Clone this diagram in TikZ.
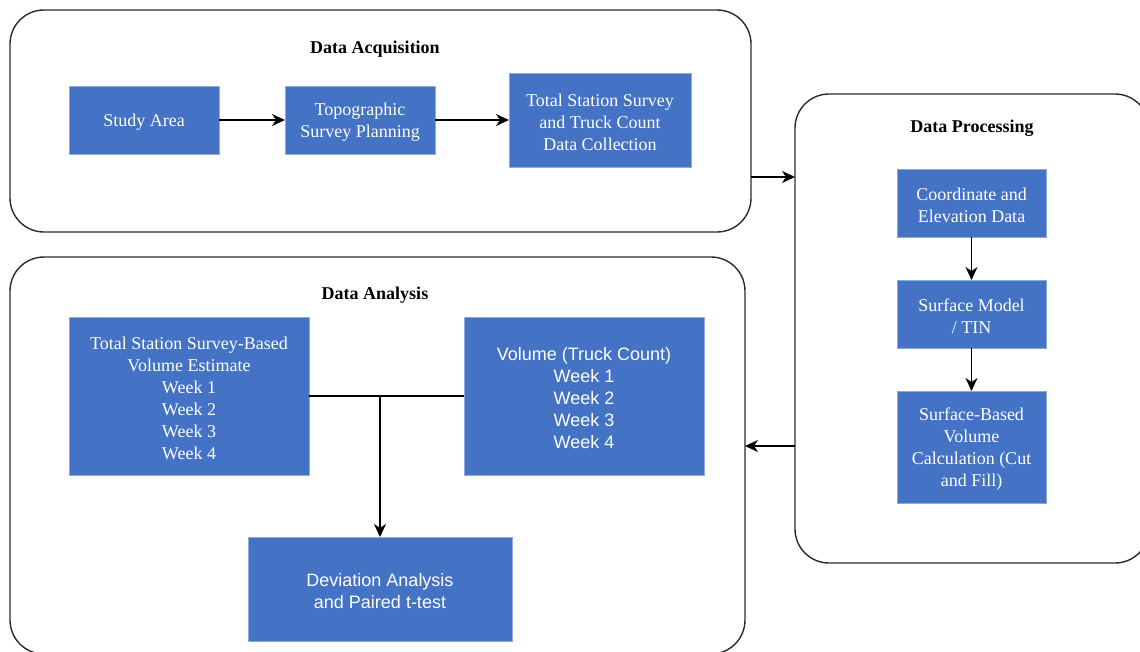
\documentclass[tikz,border=0pt]{standalone}
\usepackage{fontspec}
\setmainfont{Liberation Serif}
\newfontfamily\arialf{Liberation Sans}
\usetikzlibrary{arrows.meta,calc}
\definecolor{boxblue}{HTML}{4472C4}
\definecolor{boxedge}{HTML}{8FAADC}
\definecolor{framec}{HTML}{2B2B2B}
\newcommand{\myhstrut}{\rule{0pt}{16.5pt}}
\begin{document}
\begin{tikzpicture}[x=1pt,y=-1pt,
  grp/.style={draw=framec, line width=1.4pt, rounded corners=34pt, inner sep=0pt, outer sep=0pt},
  blk/.style={fill=boxblue, draw=boxedge, line width=0.8pt, text=white, align=center, inner sep=0pt, outer sep=0pt, font=\fontsize{18}{22}\selectfont},
  sblk/.style={blk, font=\arialf\fontsize{18}{22}\selectfont},
  ttl/.style={font=\bfseries\fontsize{18}{22}\selectfont},
  arr/.style={-{Stealth[length=13pt,width=12pt,inset=4pt]}, line width=1.4pt},
  ln/.style={line width=1.4pt}]
\useasboundingbox (0,0) rectangle (1140,651);
\clip (0,0) rectangle (1140,651);
% group frames
\node[grp, minimum width=741pt, minimum height=222pt] (acq) at (380.5,121) {};
\node[grp, minimum width=354pt, minimum height=469pt] (proc) at (972,328.5) {};
\node[grp, minimum width=735pt, minimum height=397pt] (ana) at (377.5,455.5) {};
% titles
\node[ttl] (tacq) at (375,49) {Data Acquisition};
\node[ttl] (tproc) at (972,128) {Data Processing};
\node[ttl] (tana) at (375,295) {Data Analysis};
% acquisition
\node[blk, minimum width=150pt, minimum height=68pt] (study) at (144,120) {\myhstrut Study Area};
\node[blk, minimum width=150pt, minimum height=68pt] (topo) at (360,120) {\myhstrut Topographic\\Survey Planning};
\node[blk, minimum width=182pt, minimum height=94pt] (tss) at (600,120) {\myhstrut Total Station Survey\\and Truck Count\\Data Collection};
% processing
\node[blk, minimum width=149pt, minimum height=68pt] (coord) at (971.5,203) {\myhstrut Coordinate and\\Elevation Data};
\node[blk, minimum width=149pt, minimum height=68pt] (surf) at (971.5,314) {\myhstrut Surface Model\\/ TIN};
\node[blk, minimum width=149pt, minimum height=112pt] (sbv) at (971.5,447) {\myhstrut Surface-Based\\Volume\\Calculation (Cut\\and Fill)};
% analysis
\node[blk, minimum width=240pt, minimum height=158pt] (tsv) at (189,396) {\myhstrut Total Station Survey-Based\\Volume Estimate\\Week 1\\Week 2\\Week 3\\Week 4};
\node[sblk, minimum width=240pt, minimum height=158pt] (truck) at (584,396) {\myhstrut Volume (Truck Count)\\Week 1\\Week 2\\Week 3\\Week 4};
\node[sblk, minimum width=264pt, minimum height=104pt] (dev) at (380,589) {\myhstrut Deviation Analysis\\and Paired t-test};
% connectors
\draw[arr] (study.east) -- (topo.west);
\draw[arr] (topo.east) -- (tss.west);
\draw[arr] (coord.south) -- (surf.north);
\draw[arr] (surf.south) -- (sbv.north);
\coordinate (ya) at (0,177);
\coordinate (yb) at (0,446);
\draw[arr] (acq.east |- ya) -- (proc.west |- ya);
\draw[arr] (proc.west |- yb) -- (ana.east |- yb);
\draw[ln] (tsv.east) -- (truck.west);
\draw[arr] (dev.north |- tsv.east) -- (dev.north);
\end{tikzpicture}
\end{document}
